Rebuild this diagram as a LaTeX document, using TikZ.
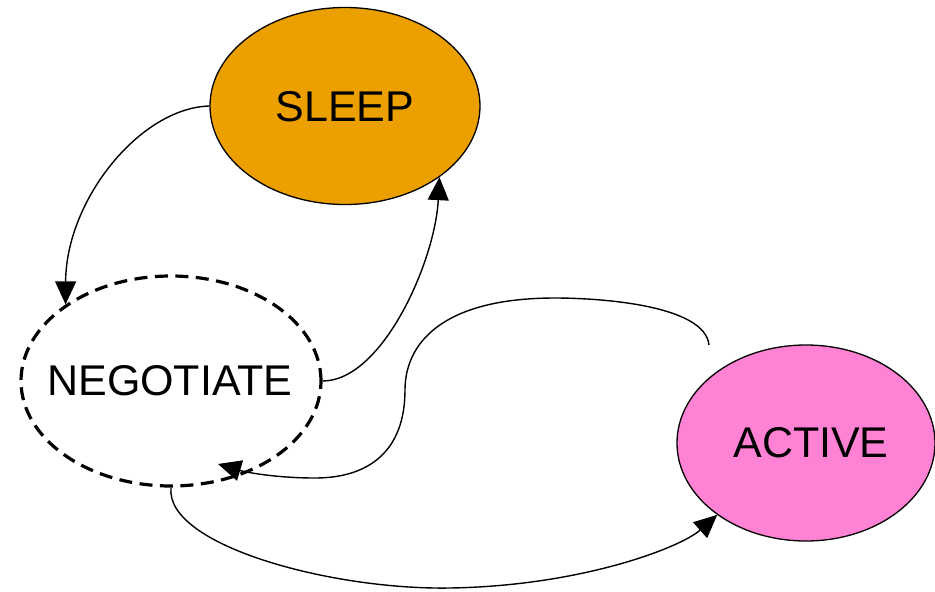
\documentclass[tikz,border=0pt]{standalone}
\usepackage{fontspec}
\setmainfont{Liberation Sans}
\usetikzlibrary{shapes.geometric,arrows.meta}
\definecolor{sleepc}{RGB}{235,160,0}
\definecolor{activec}{RGB}{255,130,212}
\tikzset{
  state/.style={ellipse,draw=black,line width=1.3pt,inner sep=0pt},
  lbl/.style={font=\fontsize{43}{50}\selectfont},
  conn/.style={line width=1.4pt,-{Triangle[length=23pt,width=21pt]}}
}
\begin{document}
\begin{tikzpicture}[x=1pt,y=-1pt]
\useasboundingbox (0,0) rectangle (935,592);
\begin{scope}
\clip (0,0) rectangle (935,592);
\node[state,fill=sleepc,minimum width=270pt,minimum height=197pt] (sl) at (345,106) {};
\node[state,draw=none,minimum width=302pt,minimum height=212pt] (neg) at (171,381) {};
\node[state,fill=activec,minimum width=258pt,minimum height=196pt] (act) at (806,443) {};
\draw[line width=3.2pt,dash pattern=on 13pt off 7.5pt] (171,381) ellipse [x radius=150pt,y radius=105pt];
\node[lbl] (tsl) at (345,107) {SLEEP};
\node[lbl] (tneg) at (170,381) {NEGOTIATE};
\node[lbl] (tact) at (811,443) {ACTIVE};
\coordinate (a3s) at (709,345);
\coordinate (a3e) at (218,464);
\draw[conn] (sl.west) .. controls (140,108) and (66,200) .. (neg.144);
\draw[conn] (neg.east) .. controls (382,381) and (435,262) .. (sl.-37);
\draw[conn] (a3s) .. controls (705,305) and (600,298) .. (555,298)
  .. controls (440,298) and (405,345) .. (405,390)
  .. controls (405,450) and (370,478) .. (315,478)
  .. controls (275,478) and (245,472) .. (a3e);
\draw[conn] (neg.south) .. controls (165,545) and (330,590) .. (450,588)
  .. controls (580,586) and (680,548) .. (act.-141);
\end{scope}
\end{tikzpicture}
\end{document}
